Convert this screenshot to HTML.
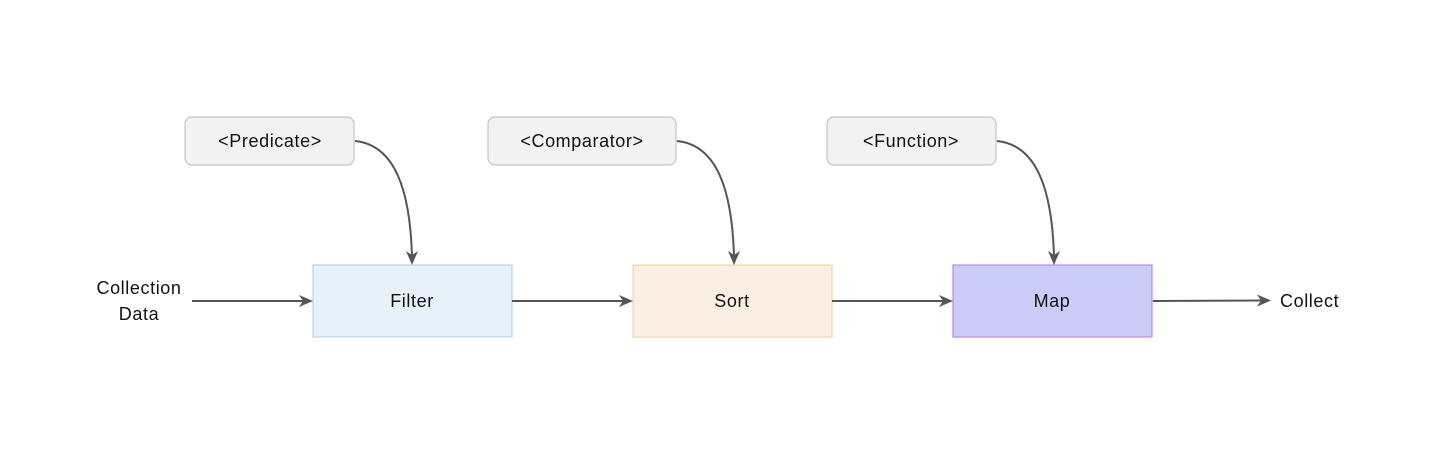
<!DOCTYPE html>
<html><head><style>
body{margin:0;width:1440px;height:464px;background:#fff;overflow:hidden}
svg text{font-family:"Liberation Sans",sans-serif;font-size:18px;letter-spacing:0.6px;fill:#111}
</style></head><body>
<svg width="1440" height="464" viewBox="0 0 1440 464">
<g fill="#f2f2f2" stroke="#c4c4c4" stroke-width="1.2">
<rect x="185" y="117" width="169" height="48" rx="7"/>
<rect x="488" y="117" width="188" height="48" rx="7"/>
<rect x="827" y="117" width="169" height="48" rx="7"/>
</g>
<rect x="313" y="265" width="199" height="72" fill="#e6f1f9" stroke="#b5d4ee" stroke-width="1.2"/>
<rect x="633" y="265" width="199" height="72" fill="#fbefe4" stroke="#f3d4a8" stroke-width="1.2"/>
<rect x="953" y="265" width="199" height="72" fill="#ccccf8" stroke="#bb88ee" stroke-width="1.2"/>
<g stroke="#555" stroke-width="2" fill="none">
<path d="M355,141 C395,145 410,190 412,256"/>
<path d="M677,141 C717,145 732,190 734,256"/>
<path d="M997,141 C1037,145 1052,190 1054,256"/>
<path d="M192,301 L304,301"/>
<path d="M512,301 L624,301"/>
<path d="M832,301 L944,301"/>
<path d="M1153,301 L1262,300.5"/>
</g>
<g fill="#555">
<path d="M406,251 L412,265 L418,251 L412,255 Z"/>
<path d="M728,251 L734,265 L740,251 L734,255 Z"/>
<path d="M1048,251 L1054,265 L1060,251 L1054,255 Z"/>
<path d="M299,295 L313,301 L299,307 L303,301 Z"/>
<path d="M619,295 L633,301 L619,307 L623,301 Z"/>
<path d="M939,295 L953,301 L939,307 L943,301 Z"/>
<path d="M1257,294.5 L1271,300.5 L1257,306.5 L1261,300.5 Z"/>
</g>
<g text-anchor="middle">
<text x="270" y="147">&lt;Predicate&gt;</text>
<text x="582" y="147">&lt;Comparator&gt;</text>
<text x="911" y="147">&lt;Function&gt;</text>
<text x="412" y="307">Filter</text>
<text x="732" y="307">Sort</text>
<text x="1052" y="307">Map</text>
<text x="139" y="294">Collection</text>
<text x="139" y="320">Data</text>
</g>
<text x="1280" y="307">Collect</text>
</svg>
</body></html>
